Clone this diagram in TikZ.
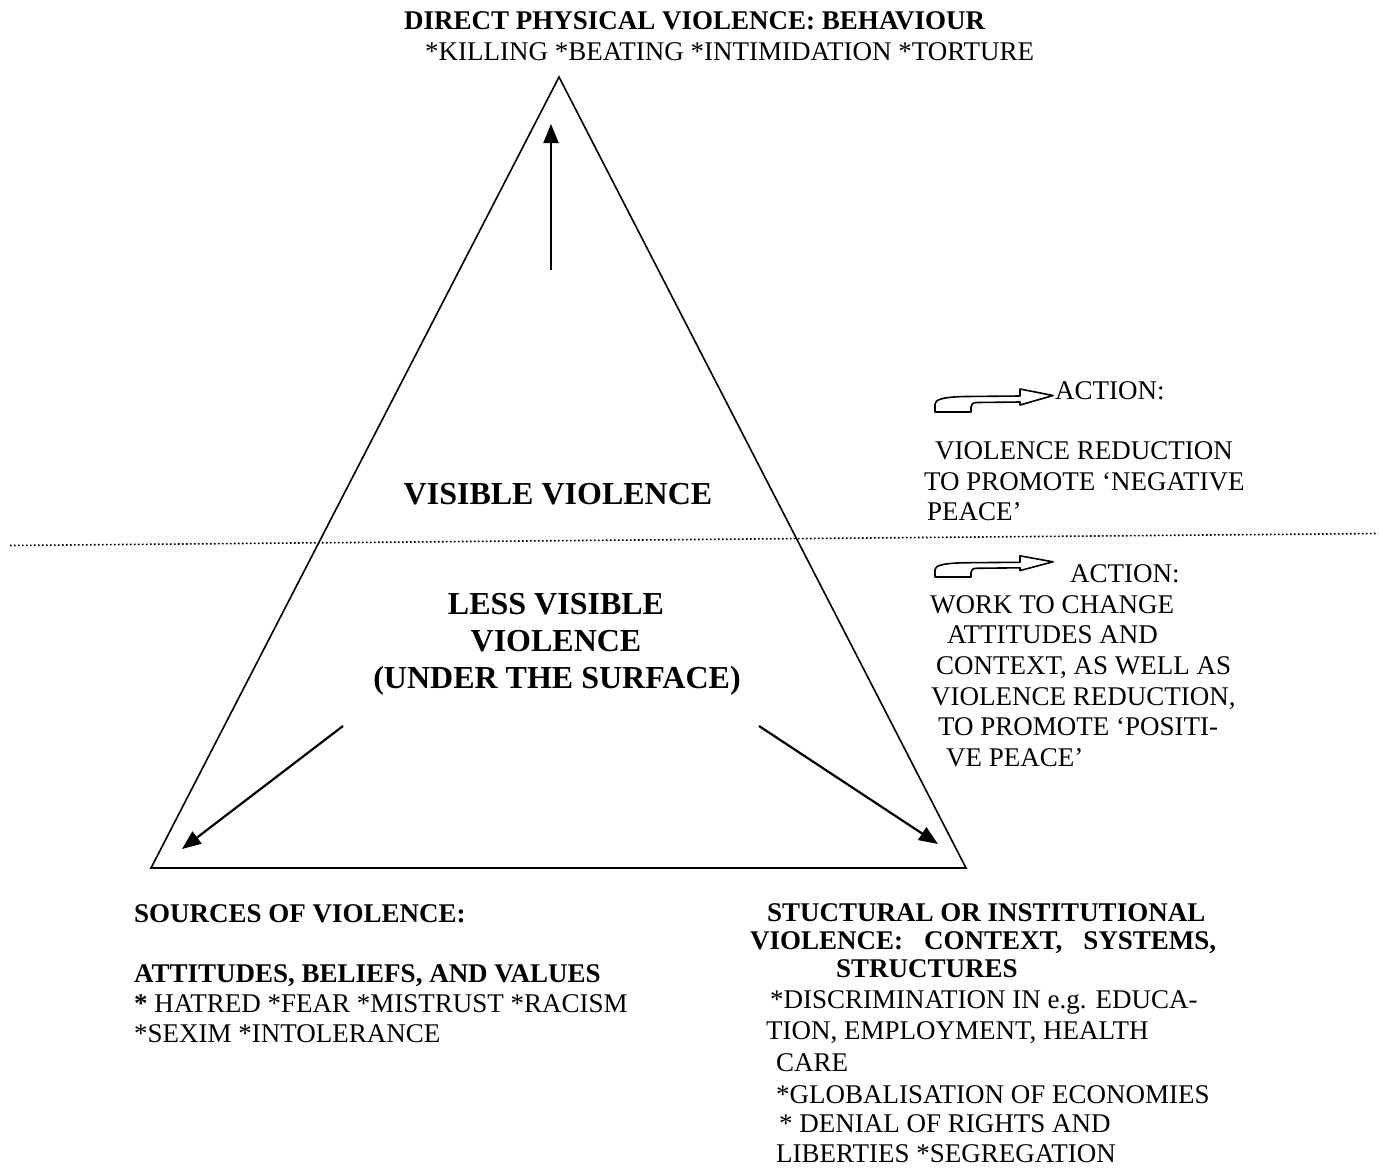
\documentclass[tikz,border=0pt]{standalone}
\usepackage{fontspec}
\setmainfont{Liberation Serif}
\usetikzlibrary{arrows.meta}
\newcommand\fsn{\fontsize{27}{31}\selectfont}
\newcommand\fsb{\fontsize{27}{31}\selectfont\bfseries}
\newcommand\fsc{\fontsize{32}{37}\selectfont\bfseries}
\newcommand\hollowarrowshape{(0,0) -- (0,-8) .. controls (0,-12.5) and (8,-15) .. (30,-15.5) -- (85,-16) -- (85,-23) -- (118,-16.5) -- (85,-7) -- (85,-10) -- (42,-9.5) .. controls (38,-9.5) and (36,-8) .. (36,-5) -- (36,0) -- cycle}
\begin{document}
\begin{tikzpicture}[x=1pt,y=-1pt,
  lbl/.style={anchor=base west,inner sep=0pt,font=\fsn},
  lblb/.style={anchor=base west,inner sep=0pt,font=\fsb},
  cen/.style={anchor=base,inner sep=0pt,font=\fsc},
  tri/.style={line width=1.6pt,line join=miter},
  arr/.style={line width=2.2pt,-{Triangle[length=19pt,width=15pt]}},
  hollow/.style={line width=1.6pt,line join=round,fill=white},
  sep/.style={line width=1.6pt,dash pattern=on 1.6pt off 2.4pt}]
\useasboundingbox (0,0) rectangle (1386,1167);
% triangle
\coordinate (apex) at (559,77);
\coordinate (bl) at (151,868);
\coordinate (br) at (966,868);
\draw[tri] (apex) -- (bl) -- (br) -- cycle;
% dotted surface line
\coordinate (sepL) at (10,545.5);
\coordinate (sepR) at (1378,533.5);
\draw[sep] (sepL) -- (sepR);
% arrows inside triangle
\coordinate (upS) at (551,270);
\coordinate (upE) at (551,124);
\coordinate (lS) at (343,726);
\coordinate (lE) at (182,849);
\coordinate (rS) at (759,726);
\coordinate (rE) at (938,844);
\draw[arr] (upS) -- (upE);
\draw[arr] (lS) -- (lE);
\draw[arr] (rS) -- (rE);
% hollow arrows
\draw[hollow,shift={(935,412)}] \hollowarrowshape;
\draw[hollow,shift={(935,577)},yscale=0.92] \hollowarrowshape;
% top
\node[lblb] (t1) at (404,29) {DIRECT PHYSICAL VIOLENCE: BEHAVIOUR};
\node[lbl] (t2) at (425,60) {*KILLING *BEATING *INTIMIDATION *TORTURE};
% centre
\node[cen] (vis) at (558,504) {VISIBLE VIOLENCE};
\node[cen] (lv1) at (556,614) {LESS VISIBLE};
\node[cen] (lv2) at (556,651) {VIOLENCE};
\node[cen] (lv3) at (557,688) {(UNDER THE SURFACE)};
% right upper
\node[lbl] (a1) at (1055,399) {ACTION:};
\node[lbl] (a2) at (935,459) {VIOLENCE REDUCTION};
\node[lbl] (a3) at (924,490) {TO PROMOTE ‘NEGATIVE};
\node[lbl] (a4) at (927,520) {PEACE’};
% right lower
\node[lbl] (b1) at (1070,582) {ACTION:};
\node[lbl] (b2) at (930,613) {WORK TO CHANGE};
\node[lbl] (b3) at (947,643) {ATTITUDES AND};
\node[lbl] (b4) at (936,674) {CONTEXT, AS WELL AS};
\node[lbl] (b5) at (931,705) {VIOLENCE REDUCTION,};
\node[lbl] (b6) at (938,735) {TO PROMOTE ‘POSITI-};
\node[lbl] (b7) at (946,766) {VE PEACE’};
% bottom left
\node[lblb] (s1) at (134,922) {SOURCES OF VIOLENCE:};
\node[lblb] (s2) at (134,982) {ATTITUDES, BELIEFS, AND VALUES};
\node[lbl] (s3) at (134,1012) {\textbf{*} HATRED *FEAR *MISTRUST *RACISM};
\node[lbl] (s4) at (134,1042) {*SEXIM *INTOLERANCE};
% bottom right
\node[lblb] (c1) at (767,921) {STUCTURAL OR INSTITUTIONAL};
\node[lblb] (c2) at (750,949) {\makebox[466pt][l]{VIOLENCE:\hfill CONTEXT,\hfill SYSTEMS,}};
\node[lblb] (c3) at (836,977) {STRUCTURES};
\node[lbl] (c4) at (770,1008) {*DISCRIMINATION IN e.g. EDUCA-};
\node[lbl] (c5) at (766,1039) {TION, EMPLOYMENT, HEALTH};
\node[lbl] (c6) at (776,1071) {CARE};
\node[lbl] (c7) at (776,1103) {*GLOBALISATION OF ECONOMIES};
\node[lbl] (c8) at (779,1132) {* DENIAL OF RIGHTS AND};
\node[lbl] (c9) at (776,1162) {LIBERTIES *SEGREGATION};
\end{tikzpicture}
\end{document}
